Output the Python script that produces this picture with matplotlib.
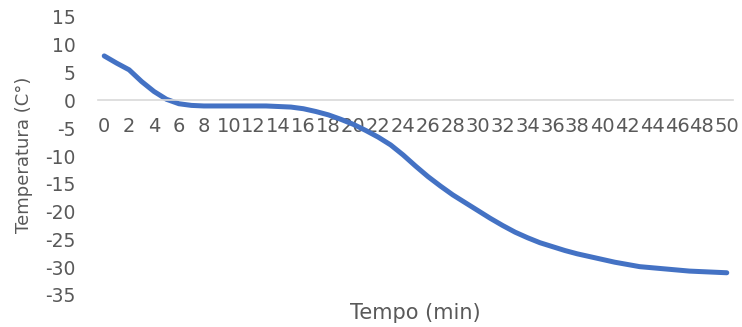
import matplotlib
matplotlib.use("Agg")
from matplotlib import pyplot as plt
import numpy as np

# tempo (min) e temperatura
tempo = list(range(0, 51))
temperatura = [8.0, 6.7, 5.5, 3.4, 1.6, 0.2, -0.6, -0.9, -1.0, -1.0,
               -1.0, -1.0, -1.0, -1.0, -1.1, -1.2, -1.5, -2.0, -2.6, -3.4,
               -4.3, -5.4, -6.6, -8.0, -9.8, -11.8, -13.7, -15.4, -17.0, -18.4,
               -19.8, -21.2, -22.5, -23.7, -24.7, -25.6, -26.3, -27.0, -27.6, -28.1,
               -28.6, -29.1, -29.5, -29.9, -30.1, -30.3, -30.5, -30.7, -30.8, -30.9,
               -31.0]
xticks = list(range(0, 51, 2))
yticks = list(range(-35, 16, 5))

cor_texto = "#595959"
plt.rcParams["font.family"] = "DejaVu Sans"
plt.rcParams["axes.unicode_minus"] = False

fig = plt.figure(figsize=(7.42, 3.27), dpi=100)
ax = fig.add_axes([98 / 742, 1 - 295 / 327, (733 - 98) / 742, (295 - 17) / 327])

ax.plot(tempo, temperatura, color="#4472C4", lw=3.6, solid_capstyle="round",
        solid_joinstyle="round")

ax.set_xlim(-0.5, 50.5)
ax.set_ylim(-35, 15)

for s in ["top", "right", "left"]:
    ax.spines[s].set_visible(False)
ax.spines["bottom"].set_position(("data", 0))
ax.spines["bottom"].set_color("#D9D9D9")
ax.spines["bottom"].set_linewidth(1.2)

ax.set_xticks(xticks)
ax.set_xticklabels([str(v) for v in xticks])
ax.set_yticks(yticks)
ax.tick_params(axis="x", length=0, pad=12, labelsize=14, colors=cor_texto)
ax.tick_params(axis="y", length=0, pad=16, labelsize=13.5, colors=cor_texto)

fig.text(415 / 742, 1 - 313 / 327, "Tempo (min)", ha="center", va="center",
         fontsize=15, color=cor_texto)
fig.text(24 / 742, 1 - 155 / 327, "Temperatura (C°)", ha="center", va="center",
         rotation=90, fontsize=13, color=cor_texto)

fig.savefig("out.png", dpi=100)
